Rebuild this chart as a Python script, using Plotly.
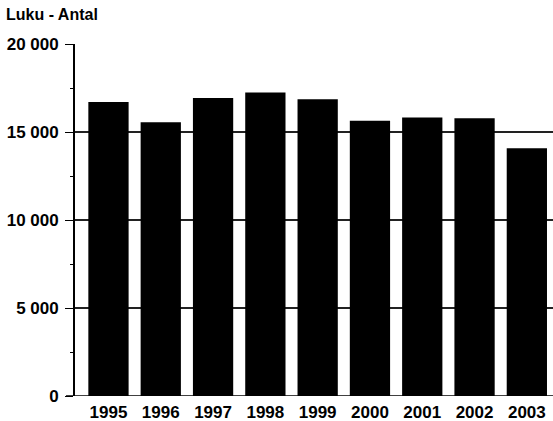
import plotly.graph_objects as go

years = ["1995", "1996", "1997", "1998", "1999", "2000", "2001", "2002", "2003"]
counts = [16700, 15550, 16930, 17250, 16860, 15640, 15830, 15780, 14070]
y_tickvals = [0, 5000, 10000, 15000, 20000]
y_ticktext = ["0", "5 000", "10 000", "15 000", "20 000"]
y_title = "Luku - Antal"

FONT = "Liberation Sans, Arial, sans-serif"

fig = go.Figure(go.Bar(x=years, y=counts, marker=dict(color="black", line=dict(width=0))))

fig.update_layout(
    width=553, height=421,
    margin=dict(l=75, r=0, t=44, b=25, autoexpand=False),
    paper_bgcolor="white", plot_bgcolor="white",
    bargap=0.23,
    showlegend=False,
    font=dict(family=FONT, size=17, color="black", weight="bold"),
    annotations=[dict(text=y_title, xref="paper", yref="paper", x=-71/478, y=1,
                      xanchor="left", yanchor="bottom", yshift=19, showarrow=False,
                      font=dict(family=FONT, size=16, color="black", weight="bold"))],
)
fig.update_xaxes(
    type="category", range=[-0.64, 8.5], automargin=False,
    showline=False, showgrid=False, ticks="", ticklabelstandoff=4,
    tickfont=dict(family=FONT, size=17, color="black", weight="bold"),
)
fig.update_yaxes(
    range=[0, 20000], tickvals=y_tickvals, ticktext=y_ticktext, automargin=False,
    showline=True, linecolor="black", linewidth=1.8,
    showgrid=True, gridcolor="#222", gridwidth=1.5,
    zeroline=False,
    ticks="outside", ticklen=8, tickwidth=1.3, tickcolor="black",
    ticklabelstandoff=3,
    minor=dict(ticks="outside", ticklen=3, tickcolor="black", dtick=2500, tick0=0, showgrid=False),
    tickfont=dict(family=FONT, size=17, color="black", weight="bold"),
)
# baseline
fig.add_shape(type="line", xref="paper", yref="y", x0=-9/478, x1=1, y0=0, y1=0,
              line=dict(color="black", width=1.5))

fig.write_html("out.html", config={"displayModeBar": False},
               post_script="document.body.style.margin='0';document.body.style.padding='0';")
